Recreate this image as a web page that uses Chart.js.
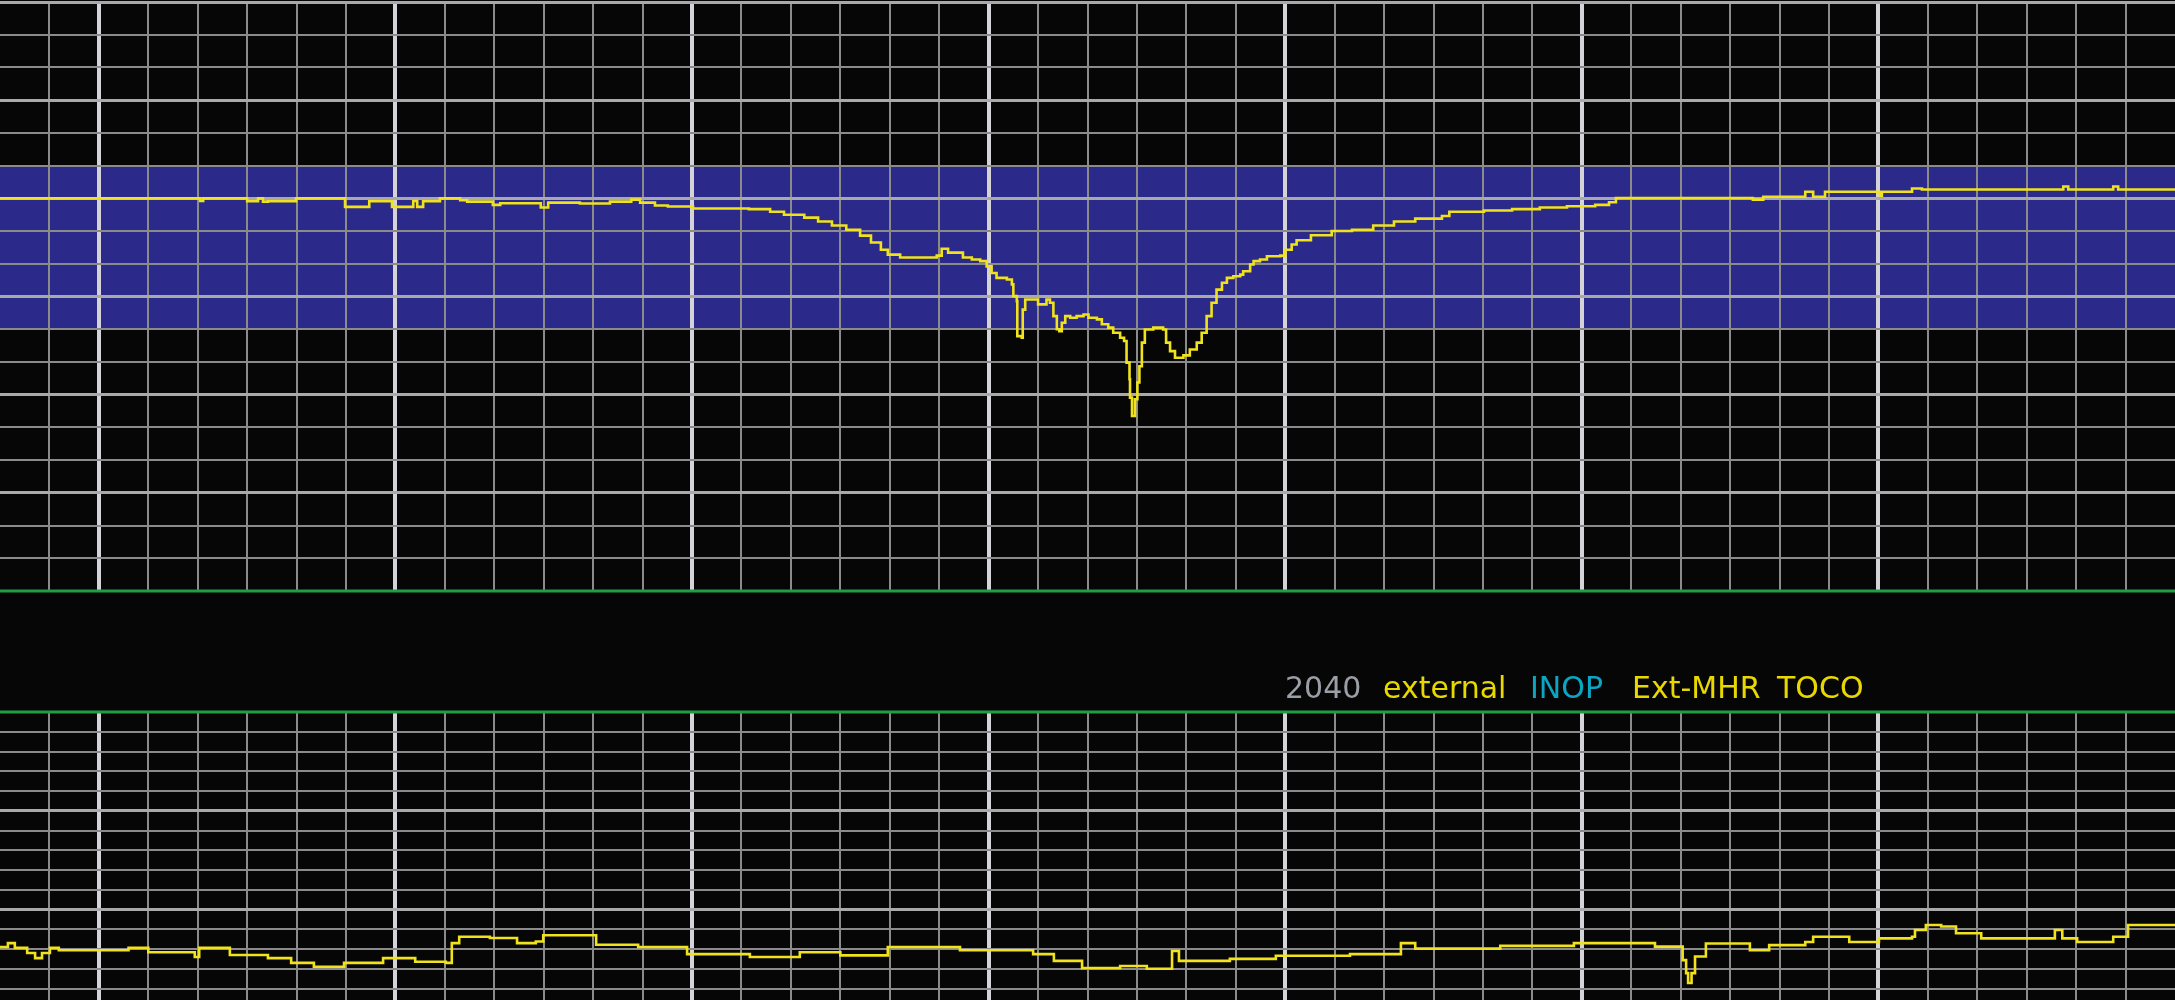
<!DOCTYPE html>
<html>
<head>
<meta charset="utf-8">
<script src="https://cdn.jsdelivr.net/npm/chart.js@4.4.1/dist/chart.umd.min.js"></script>
<style>
  html, body { margin:0; padding:0; background:#060606; width:2175px; height:1000px; overflow:hidden; }
  #top { position:absolute; left:0; top:0; width:2175px; height:596px; }
  #bot { position:absolute; left:0; top:709px; width:2175px; height:291px; }
  #label { position:absolute; left:0; top:0; width:2175px; height:1000px; pointer-events:none;
           font-family:"DejaVu Sans", Verdana, sans-serif; font-size:30px; line-height:30px; white-space:nowrap; }
  #label span { position:absolute; top:673px; }
</style>
</head>
<body>
<div id="top"><canvas id="fhr"></canvas></div>
<div id="bot"><canvas id="toco"></canvas></div>
<div id="label"></div>
<script>
// ---------------- data ----------------
const timeRange = [40, 480];      // seconds shown on the x axis
const fhrRange = [30, 210];       // bpm
const normalBand = [110, 160];    // bpm, shaded band
const tocoRange = [27.1, 100];    // TOCO units

const fhrTime = [40, 80.5, 81.1, 90.0, 92.2, 93.2, 94.2, 99.9, 109.8, 114.7, 119.3, 123.6, 124.4, 125.6, 129.0, 133.1, 134.5, 139.7,
  141.2, 149.4, 150.9, 157.3, 163.4, 167.7, 169.5, 172.5, 175.1, 180.2, 191.5, 195.8, 198.6, 202.7, 205.5, 208.3, 211.2, 214.0,
  216.2, 218.2, 219.6, 222.1, 229.5, 230.5, 231.8, 234.8, 236.6, 238.3, 239.6, 240.6, 241.6, 243.7, 244.7, 245.0, 245.7, 245.8,
  246.7, 246.9, 247.4, 249.7, 250.0, 251.4, 251.7, 252.4, 253.1, 253.8, 254.3, 254.8, 255.5, 256.5, 257.8, 259.2, 260.2, 261.9,
  262.9, 264.2, 265.2, 266.6, 267.4, 267.9, 268.5, 268.6, 269.0, 269.4, 269.6, 270.1, 270.5, 271.0, 271.6, 273.3, 275.3, 275.9,
  276.7, 277.7, 279.4, 280.7, 282.1, 283.1, 284.1, 285.1, 286.1, 287.2, 288.2, 289.5, 290.9, 291.5, 292.9, 293.6, 294.9, 296.3,
  299.0, 300.0, 301.3, 302.3, 305.2, 309.4, 313.5, 317.8, 322.0, 326.3, 331.7, 333.2, 337.4, 340.2, 345.9, 351.5, 357.0, 362.7,
  365.5, 366.9, 394.6, 396.7, 405.2, 406.8, 409.2, 420.3, 420.7, 426.8, 428.8, 457.4, 458.4, 467.5, 468.5, 480];
const fhrBpm = [150, 149.2, 150, 149.1, 150, 149.0, 149.1, 150, 147.4, 149.1, 147.4, 149.2, 147.4, 149.1, 150, 149.4, 149.0, 148.0,
  148.5, 147.2, 148.7, 148.4, 149.0, 149.6, 148.7, 147.8, 147.5, 146.9, 146.7, 145.9, 145.0, 144.1, 142.9, 141.7, 140.4, 138.6,
  136.5, 134.3, 132.8, 131.9, 132.5, 134.6, 133.4, 131.9, 131.3, 130.8, 129.2, 127.2, 125.7, 125.2, 123.7, 120.1, 118.6, 107.9,
  107.4, 116.0, 119.1, 119.1, 117.6, 117.6, 119.1, 118.1, 114.0, 110.0, 109.4, 112.0, 114.0, 113.5, 114.0, 114.5, 113.5, 113.0,
  111.5, 110.5, 108.9, 107.4, 106.4, 99.8, 94.7, 89.1, 83.5, 83.5, 88.6, 93.7, 98.7, 105.9, 109.9, 110.5, 109.9, 105.9,
  103.3, 101.3, 102.0, 103.8, 105.9, 108.9, 114.0, 118.1, 122.1, 124.2, 125.7, 126.2, 126.7, 127.7, 129.8, 130.8, 131.3, 132.3,
  132.5, 134.3, 135.9, 137.2, 138.7, 140.0, 140.4, 141.7, 142.9, 143.8, 144.6, 145.9, 145.9, 146.3, 146.7, 147.2, 147.6, 148.0,
  148.8, 150.1, 149.6, 150.5, 152.0, 150.5, 152.0, 150.8, 152.0, 153.0, 152.7, 153.6, 152.7, 153.6, 152.7, 152.7];

const tocoTime = [40, 41.6, 43.0, 45.5, 47.1, 48.5, 50.1, 51.9, 66, 70, 79.4, 80.3, 86.5, 94.2, 98.9, 103.5, 109.6, 117.5, 124,
  130.2, 131.4, 132.9, 139.1, 144.6, 148.4, 149.9, 160.6, 169.1, 179.0, 191.7, 201.8, 210, 219.6, 234.2, 249.0, 253.2, 258.9,
  266.6, 272, 277.1, 278.5, 288.8, 298.1, 313.1, 323.4, 326.3, 343.5, 358.4, 374.8, 380.4, 381.1, 381.5, 382.2, 382.9, 385.1,
  394.0, 397.9, 405.2, 406.8, 414.1, 420.1, 426.8, 427.4, 429.6, 432.7, 435.7, 440.8, 455.7, 457.2, 460.2, 467.5, 470.5, 480];
const tocoValue = [40.5, 41.5, 40.3, 39.0, 37.7, 39.0, 40.3, 39.7, 40.3, 39.2, 38.0, 40.3, 38.5, 37.7, 36.5, 35.5, 36.5, 37.7, 36.8,
  36.5, 41.5, 43.1, 42.8, 41.5, 41.9, 43.5, 41.1, 40.5, 38.7, 38.0, 39.2, 38.4, 40.5, 39.7, 38.7, 37.0, 35.2,
  35.7, 35.0, 39.5, 37.0, 37.5, 38.3, 38.7, 41.5, 40.1, 40.8, 41.5, 40.6, 37.2, 33.9, 31.4, 33.9, 38.1, 41.4,
  39.7, 41.0, 41.8, 43.1, 41.8, 42.7, 43.1, 44.8, 46.1, 45.7, 44.0, 42.7, 44.8, 42.7, 41.8, 43.1, 46.1, 46.1];

const statusWords = ['2040', 'external', 'INOP', 'Ext-MHR', 'TOCO'];

// ---------------- styling / layout ----------------
const C = { band:'#2b2a8a', minor:'#8b8b8b', majorH:'#a9a9a9', majorV:'#d3d3d8', trace:'#f0e21c', green:'#1f9e46' };
const wordColors = ['#9a9ea6', '#e8d800', '#0aa6c2', '#e8d800', '#e8d800'];
const wordLeft = [1285, 1383, 1530, 1632, 1777];

const label = document.getElementById('label');
statusWords.forEach((w, i) => {
  const s = document.createElement('span');
  s.textContent = w; s.style.left = wordLeft[i] + 'px'; s.style.color = wordColors[i];
  label.appendChild(s);
});

const clear = 'rgba(0,0,0,0)';
function xScale() {
  return {
    type: 'linear', min: timeRange[0], max: timeRange[1],
    ticks: { display: false, stepSize: 10, autoSkip: false },
    border: { display: false },
    grid: {
      drawTicks: false,
      color: c => (c.tick.value <= timeRange[0] || c.tick.value >= timeRange[1]) ? clear : (c.tick.value % 60 === 0 ? C.majorV : C.minor),
      lineWidth: c => c.tick.value % 60 === 0 ? 4 : 2
    }
  };
}

const bandPlugin = {
  id: 'band',
  beforeDraw(chart) {
    const { ctx, chartArea: a, scales: { y } } = chart;
    const t = y.getPixelForValue(normalBand[1]), b = y.getPixelForValue(normalBand[0]);
    ctx.save(); ctx.fillStyle = C.band; ctx.fillRect(a.left, t, a.right - a.left, b - t); ctx.restore();
  }
};
function edgePlugin(edge) {
  return {
    id: 'edge_' + edge,
    afterDraw(chart) {
      const { ctx, chartArea: a } = chart;
      const yy = edge === 'bottom' ? a.bottom : a.top;
      ctx.save(); ctx.fillStyle = C.green; ctx.fillRect(0, yy - 1.5, chart.width, 3); ctx.restore();
    }
  };
}

const common = {
  responsive: true, maintainAspectRatio: false, animation: false, devicePixelRatio: 1, events: [],
  plugins: { legend: { display: false }, tooltip: { enabled: false } }
};

new Chart(document.getElementById('fhr'), {
  type: 'line',
  data: { datasets: [{
    data: fhrTime.map((t, i) => ({ x: t, y: fhrBpm[i] })),
    borderColor: C.trace, borderWidth: 2.6, pointRadius: 0, stepped: true, fill: false
  }] },
  options: Object.assign({}, common, {
    layout: { padding: { top: 2, bottom: 5, left: 0, right: 0 } },
    scales: {
      x: xScale(),
      y: {
        type: 'linear', min: fhrRange[0], max: fhrRange[1],
        ticks: { display: false, stepSize: 10 },
        border: { display: false },
        grid: {
          drawTicks: false,
          color: c => c.tick.value === fhrRange[0] ? clear : (c.tick.value % 30 === 0 ? C.majorH : C.minor),
          lineWidth: c => c.tick.value % 30 === 0 ? 3 : 2
        }
      }
    }
  }),
  plugins: [bandPlugin, edgePlugin('bottom')]
});

new Chart(document.getElementById('toco'), {
  type: 'line',
  data: { datasets: [{
    data: tocoTime.map((t, i) => ({ x: t, y: tocoValue[i] })),
    borderColor: C.trace, borderWidth: 2.6, pointRadius: 0, stepped: true, fill: false
  }] },
  options: Object.assign({}, common, {
    layout: { padding: { top: 3, bottom: 0, left: 0, right: 0 } },
    scales: {
      x: xScale(),
      y: {
        type: 'linear', min: tocoRange[0], max: tocoRange[1],
        ticks: { display: false },
        afterBuildTicks: s => { const t = []; for (let v = 30; v <= 100; v += 5) t.push({ value: v }); s.ticks = t; },
        border: { display: false },
        grid: {
          drawTicks: false,
          color: c => c.tick.value >= 100 ? clear : (c.tick.value % 25 === 0 ? C.majorH : C.minor),
          lineWidth: c => c.tick.value % 25 === 0 ? 3 : 2
        }
      }
    }
  }),
  plugins: [edgePlugin('top')]
});
</script>
</body>
</html>
